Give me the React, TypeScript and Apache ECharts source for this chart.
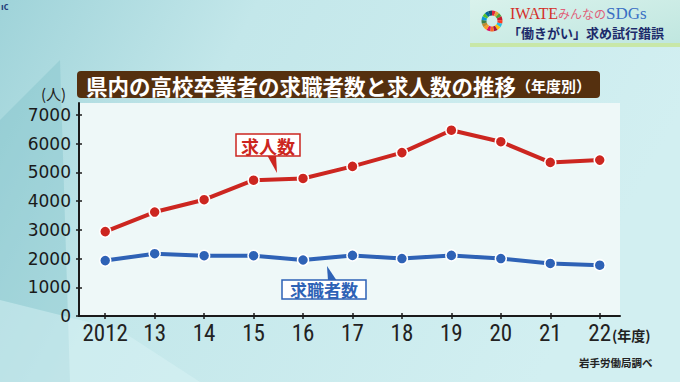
import React, { useEffect, useRef } from "react";
import * as echarts from "echarts";

const years = [2012, 2013, 2014, 2015, 2016, 2017, 2018, 2019, 2020, 2021, 2022];
const xTickLabels = ["2012", "13", "14", "15", "16", "17", "18", "19", "20", "21", "22"];
const jobOffers = [2940, 3620, 4050, 4730, 4790, 5210, 5690, 6470, 6070, 5350, 5430];
const jobSeekers = [1930, 2170, 2100, 2100, 1950, 2110, 2000, 2110, 2000, 1830, 1770];
const yTicks = [0, 1000, 2000, 3000, 4000, 5000, 6000, 7000];
const sdgColors = [
  "#E5243B", "#DDA63A", "#4C9F38", "#C5192D", "#FF3A21", "#26BDE2", "#FCC30B", "#A21942",
  "#FD6925", "#DD1367", "#FD9D24", "#BF8B2E", "#3F7E44", "#0A97D9", "#56C02B", "#00689D", "#19486A",
];

const RED = "#cc2620";
const BLUE = "#2e62b6";
const CJK = '"Noto Sans CJK JP", "Noto Sans", sans-serif';
const NARROW = '"Liberation Sans Narrow", "Roboto Condensed", "Liberation Sans", sans-serif';

export default function App() {
  const ref = useRef<HTMLDivElement>(null);
  useEffect(() => {
    if (!ref.current) return;
    const chart = echarts.init(ref.current, undefined, { renderer: "svg" });

    const wheel: any[] = sdgColors.map((c, i) => ({
      type: "sector",
      shape: {
        cx: 492,
        cy: 21,
        r: 10.5,
        r0: 5.5,
        startAngle: (i / sdgColors.length) * Math.PI * 2 - Math.PI / 2,
        endAngle: ((i + 1) / sdgColors.length) * Math.PI * 2 - Math.PI / 2,
      },
      style: { fill: c },
      z: 12,
    }));

    const option: any = {
      animation: false,
      backgroundColor: {
        type: "linear",
        x: 0, y: 0, x2: 1, y2: 0.3,
        colorStops: [
          { offset: 0, color: "#9fd3d9" },
          { offset: 0.35, color: "#c3e7ea" },
          { offset: 1, color: "#d2eff1" },
        ],
      },
      grid: {
        left: 79,
        right: 60,
        top: 103,
        bottom: 66,
        show: true,
        backgroundColor: "#eef8f8",
        borderWidth: 0,
      },
      xAxis: [
        {
          type: "value",
          min: 2011.47,
          max: 2022.41,
          position: "bottom",
          splitLine: { show: false },
          axisLine: { show: true, lineStyle: { color: "#1a1a1a", width: 2 } },
          axisTick: { show: true, length: 3, customValues: years, lineStyle: { color: "#1a1a1a", width: 1.5 } },
          axisLabel: {
            customValues: years,
            margin: 6,
            color: "#222",
            fontFamily: NARROW,
            fontSize: 23,
            formatter: (v: number) => xTickLabels[years.indexOf(Math.round(v))] ?? "",
          },
        },
        {
          type: "value",
          min: 2011.47,
          max: 2022.41,
          position: "bottom",
          splitLine: { show: false },
          axisLine: { show: false },
          axisTick: { show: true, inside: true, length: 3, customValues: years, lineStyle: { color: "#1a1a1a", width: 1.5 } },
          axisLabel: { show: false },
        },
      ],
      yAxis: [
        {
          type: "value",
          min: 0,
          max: 7418,
          position: "left",
          splitLine: { show: false },
          axisLine: { show: true, lineStyle: { color: "#1a1a1a", width: 2 } },
          axisTick: { show: true, length: 3, customValues: yTicks, lineStyle: { color: "#1a1a1a", width: 1.5 } },
          axisLabel: {
            customValues: yTicks,
            margin: 8,
            color: "#1a1a1a",
            fontFamily: '"DejaVu Sans", sans-serif',
            fontSize: 17,
            formatter: (v: number) => String(v),
          },
        },
        {
          type: "value",
          min: 0,
          max: 7418,
          position: "left",
          splitLine: { show: false },
          axisLine: { show: false },
          axisTick: { show: true, inside: true, length: 3, customValues: yTicks, lineStyle: { color: "#1a1a1a", width: 1.5 } },
          axisLabel: { show: false },
        },
      ],
      series: [
        {
          name: "求人数",
          type: "line",
          data: years.map((y, i) => [y, jobOffers[i]]),
          lineStyle: { color: RED, width: 4 },
          itemStyle: { color: RED, borderColor: "#fff", borderWidth: 1.5 },
          symbol: "circle",
          symbolSize: 11,
          showAllSymbol: true,
          z: 5,
        },
        {
          name: "求職者数",
          type: "line",
          data: years.map((y, i) => [y, jobSeekers[i]]),
          lineStyle: { color: BLUE, width: 4 },
          itemStyle: { color: BLUE, borderColor: "#fff", borderWidth: 1.5 },
          symbol: "circle",
          symbolSize: 11,
          showAllSymbol: true,
          z: 5,
        },
      ],
      graphic: [
        {
          type: "polygon",
          shape: { points: [[0, 120], [60, 60], [70, 382], [0, 382]] },
          style: { fill: "rgba(120,190,198,0.35)" },
          z: -10,
          silent: true,
        },
        {
          type: "polygon",
          shape: { points: [[0, 382], [200, 382], [120, 330], [0, 300]] },
          style: { fill: "rgba(220,245,246,0.45)" },
          z: -10,
          silent: true,
        },
        {
          type: "text",
          style: { text: "ıc", x: 1, y: 2, fill: "#25407a", font: `bold 9px ${CJK}` },
        },
        {
          type: "rect",
          shape: { x: 470, y: 0, width: 210, height: 47 },
          style: {
            fill: {
              type: "linear", x: 0, y: 0, x2: 1, y2: 1,
              colorStops: [
                { offset: 0, color: "#d9f2ec" },
                { offset: 1, color: "#bfe6df" },
              ],
            },
          },
          z: 10,
        },
        {
          type: "rect",
          shape: { x: 470, y: 43, width: 210, height: 4 },
          style: { fill: "#c8e7a8" },
          z: 11,
        },
        ...wheel,
        {
          type: "text",
          style: {
            x: 510,
            y: 13,
            verticalAlign: "middle",
            text: "{a|IWATE}{b|みんなの}{c|SDGs}",
            rich: {
              a: { fill: "#d4302a", fontFamily: '"Liberation Serif", serif', fontSize: 16 },
              b: { fill: "#e0607a", fontFamily: CJK, fontSize: 12 },
              c: { fill: "#3a6fc4", fontFamily: '"Liberation Serif", serif', fontSize: 17 },
            },
          },
          z: 12,
        },
        {
          type: "text",
          style: {
            x: 508,
            y: 32,
            verticalAlign: "middle",
            text: "「働きがい」求め試行錯誤",
            fill: "#1c2a6a",
            font: `bold 13px ${CJK}`,
          },
          z: 12,
        },
        {
          type: "rect",
          shape: { x: 77, y: 71, width: 523, height: 27, r: 4 },
          style: { fill: "#55300f" },
          z: 10,
        },
        {
          type: "text",
          style: {
            x: 86,
            y: 85,
            verticalAlign: "middle",
            text: "{a|県内の高校卒業者の求職者数と求人数の推移}{b|（年度別）}",
            rich: {
              a: { fill: "#ffffff", fontFamily: CJK, fontWeight: "bold", fontSize: 21.5 },
              b: { fill: "#ffffff", fontFamily: CJK, fontWeight: "bold", fontSize: 15 },
            },
          },
          z: 11,
        },
        {
          type: "text",
          style: { x: 41, y: 93, verticalAlign: "middle", text: "(人)", fill: "#222", font: `15px ${CJK}` },
          z: 11,
        },
        {
          type: "text",
          style: { x: 612, y: 335, verticalAlign: "middle", text: "(年度)", fill: "#222", font: `bold 14px ${CJK}` },
          z: 11,
        },
        {
          type: "text",
          style: { x: 579, y: 362, verticalAlign: "middle", text: "岩手労働局調べ", fill: "#222", font: `bold 10.5px ${CJK}` },
          z: 11,
        },
        {
          type: "polygon",
          shape: { points: [[267, 155], [276, 155], [277, 173]] },
          style: { fill: RED },
          z: 11,
        },
        {
          type: "rect",
          shape: { x: 236, y: 134, width: 64, height: 22 },
          style: { fill: "#ffffff", stroke: RED, lineWidth: 1.5 },
          z: 12,
        },
        {
          type: "text",
          style: {
            x: 268, y: 145.5, align: "center", verticalAlign: "middle",
            text: "求人数", fill: RED, font: `bold 18px ${CJK}`,
          },
          z: 13,
        },
        {
          type: "polygon",
          shape: { points: [[327, 266], [328, 281], [337, 281]] },
          style: { fill: BLUE },
          z: 11,
        },
        {
          type: "rect",
          shape: { x: 282, y: 280, width: 84, height: 19 },
          style: { fill: "#ffffff", stroke: BLUE, lineWidth: 1.5 },
          z: 12,
        },
        {
          type: "text",
          style: {
            x: 324, y: 289.5, align: "center", verticalAlign: "middle",
            text: "求職者数", fill: BLUE, font: `bold 17px ${CJK}`,
          },
          z: 13,
        },
      ],
    };

    chart.setOption(option);
    return () => chart.dispose();
  }, []);

  return (
    <div
      ref={ref}
      style={{ position: "absolute", left: 0, top: 0, width: 680, height: 382 }}
    />
  );
}
